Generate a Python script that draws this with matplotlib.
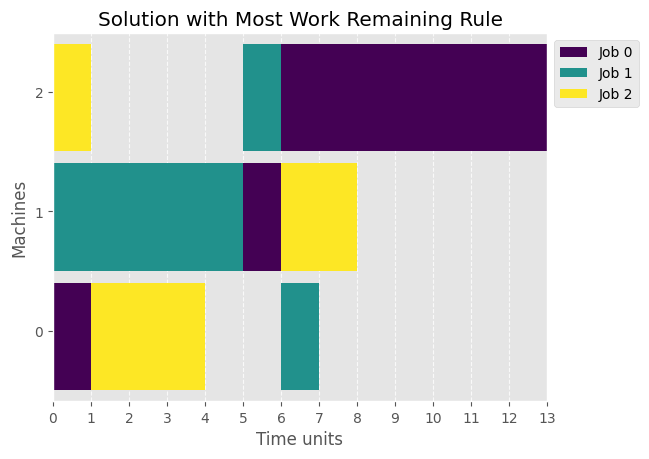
import matplotlib
matplotlib.use("Agg")
import matplotlib.pyplot as plt

jobs = ["Job 0", "Job 1", "Job 2"]
colors = ["#440154", "#21918c", "#fde725"]
# (machine, start, duration) per job
job_ops = {
    0: [(0, 0, 1), (1, 5, 1), (2, 6, 7)],
    1: [(1, 0, 5), (2, 5, 1), (0, 6, 1)],
    2: [(2, 0, 1), (0, 1, 3), (1, 6, 2)],
}
machines = [0, 1, 2]
max_time = 13

plt.style.use("ggplot")
fig, ax = plt.subplots(figsize=(6.49, 4.6), dpi=100)
fig.subplots_adjust(left=53/649, right=547/649, top=1-34/460, bottom=1-402/460)

for j, name in enumerate(jobs):
    ops = job_ops[j]
    for k, (m, s, d) in enumerate(ops):
        ax.barh(m - 0.05, d, left=s, height=0.9, color=colors[j],
                label=name if k == 0 else None)

ax.set_xlim(0, max_time)
ax.set_ylim(-0.59, 2.49)
ax.set_xticks(range(0, max_time + 1))
ax.set_yticks(machines)
ax.grid(False)
ax.grid(axis="x", linestyle="--", color="white", alpha=0.8)
ax.set_axisbelow(True)
ax.set_xlabel("Time units")
ax.set_ylabel("Machines")
ax.set_title("Solution with Most Work Remaining Rule", color="black")
ax.legend(loc="upper left", bbox_to_anchor=(1, 1))

fig.savefig("out.png", dpi=100)
